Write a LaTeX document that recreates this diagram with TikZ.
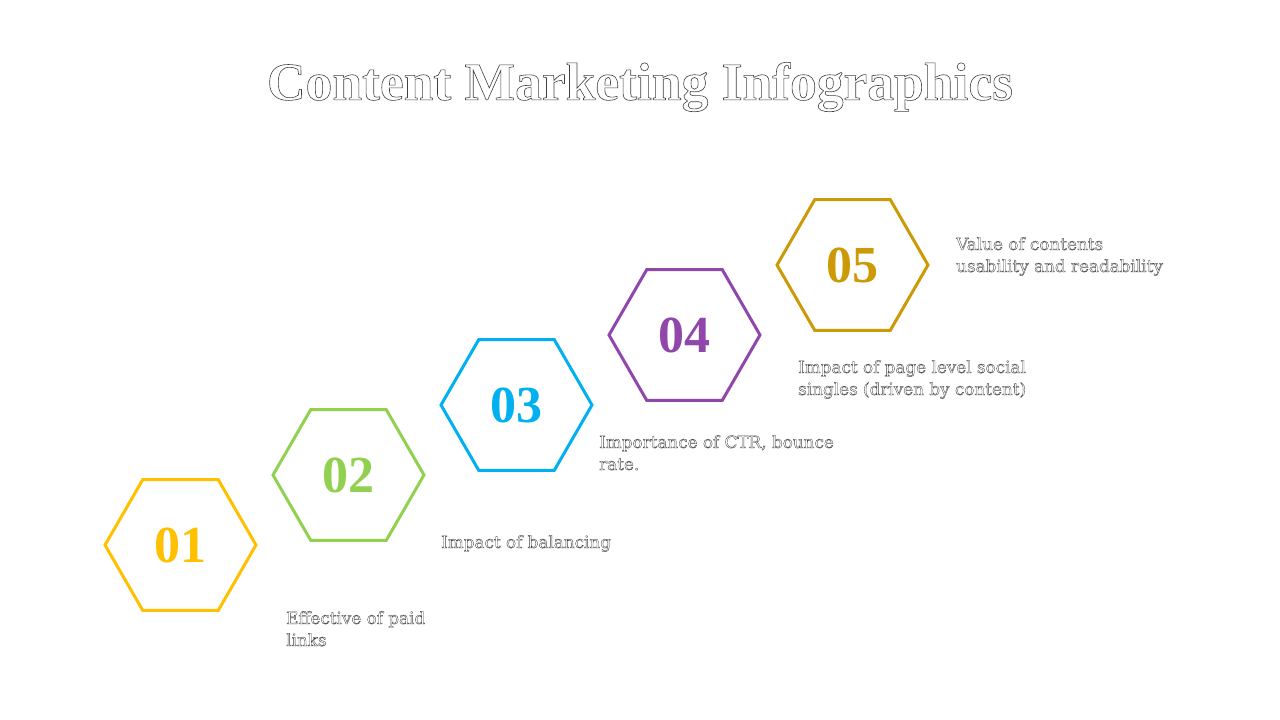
\documentclass[tikz,border=0pt]{standalone}
\usepackage{fontspec}
\setmainfont{Liberation Serif}
\newfontfamily\lblfont{DejaVu Serif}
\usetikzlibrary{shapes.geometric}
\definecolor{c1}{HTML}{FFC000}
\definecolor{c2}{HTML}{92D050}
\definecolor{c3}{HTML}{00B0F0}
\definecolor{c4}{HTML}{9146AC}
\definecolor{c5}{HTML}{CC9A06}
\definecolor{outl}{HTML}{404040}
\newcommand{\outlined}[2]{\special{pdf:literal direct #1 w 1 Tr}#2\special{pdf:literal direct 0 Tr}}
\tikzset{
  hexbox/.style={regular polygon, regular polygon sides=6, minimum size=151pt, inner sep=0pt, line width=3pt, draw=#1, text=#1, font=\fontsize{52}{52}\selectfont\bfseries},
  lbl/.style={anchor=base west, align=left, inner sep=0pt, text=outl, font=\lblfont\fontsize{16.8}{22}\selectfont},
  ttl/.style={inner sep=0pt, text=outl, font=\fontsize{53.5}{54}\selectfont\bfseries}
}
\begin{document}
\begin{tikzpicture}[x=1pt,y=-1pt]
\useasboundingbox (0,0) rectangle (1280,720);
\node[ttl] (title) at (640,87) {\outlined{0.6}{Content Marketing Infographics}};
\node[hexbox=c1] (h1) at (180.5,545) {01};
\node[hexbox=c2] (h2) at (348.5,475) {02};
\node[hexbox=c3] (h3) at (516.5,405) {03};
\node[hexbox=c4] (h4) at (684.5,335) {04};
\node[hexbox=c5] (h5) at (852.5,265) {05};
\node[lbl] (l1) at (286,646) {\outlined{0.35}{Effective of paid\\links}};
\node[lbl] (l2) at (441,548) {\outlined{0.35}{Impact of balancing}};
\node[lbl] (l3) at (599,470) {\outlined{0.35}{Importance of CTR, bounce\\rate.}};
\node[lbl] (l4) at (798,395) {\outlined{0.35}{Impact of page level social\\singles (driven by content)}};
\node[lbl] (l5) at (956,272) {\outlined{0.35}{Value of contents\\usability and readability}};
\end{tikzpicture}
\end{document}
